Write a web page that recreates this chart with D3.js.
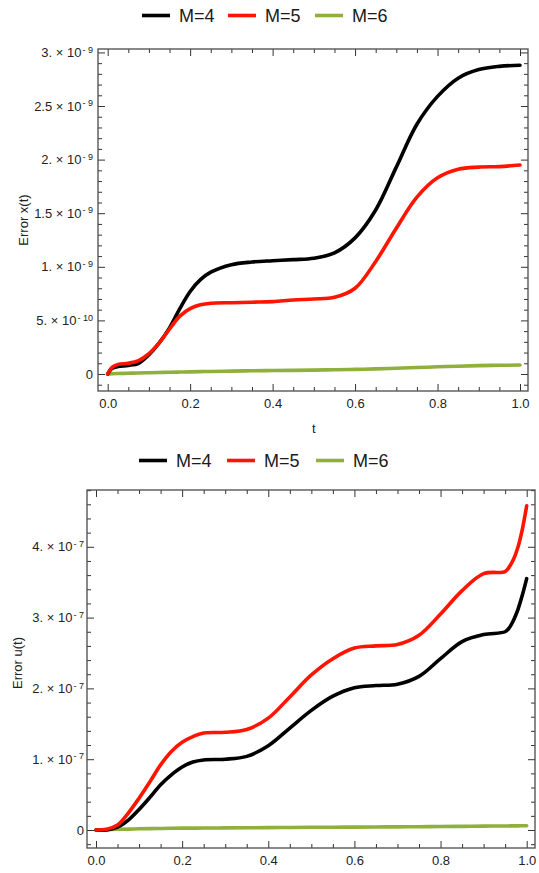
<!DOCTYPE html>
<html>
<head>
<meta charset="utf-8">
<script src="https://cdn.jsdelivr.net/npm/d3@7"></script>
<style>
  body { margin: 0; background: #fff; }
  svg { display: block; font-family: "Liberation Sans", Arial, sans-serif; }
</style>
</head>
<body>
<div id="chart"></div>
<script>
// series names + colours (legend)
var seriesNames = ["M=4", "M=5", "M=6"];
var seriesColors = ["#000000", "#ff1400", "#8fb13c"];

var xTicks = [0, 0.2, 0.4, 0.6, 0.8, 1.0];

// ---- top panel: Error x(t), values in units of 1e-9
var tX = [0, 0.01, 0.025, 0.05, 0.075, 0.1, 0.125, 0.15, 0.175, 0.2, 0.225, 0.25, 0.3, 0.35, 0.4,
  0.45, 0.5, 0.55, 0.6, 0.65, 0.7, 0.75, 0.8, 0.85, 0.9, 0.95, 1.0];
var errX_M4 = [0, 0.05, 0.07, 0.08, 0.10, 0.18, 0.29, 0.43, 0.61, 0.77, 0.88, 0.95, 1.02, 1.045, 1.057,
  1.067, 1.08, 1.13, 1.27, 1.53, 1.93, 2.33, 2.59, 2.76, 2.84, 2.87, 2.88];
var errX_M5 = [0, 0.06, 0.09, 0.10, 0.125, 0.19, 0.29, 0.42, 0.54, 0.61, 0.645, 0.66, 0.665, 0.67, 0.675,
  0.69, 0.70, 0.715, 0.80, 1.05, 1.36, 1.65, 1.83, 1.91, 1.93, 1.935, 1.95];
var errX_M6 = [0, 0.002, 0.004, 0.007, 0.01, 0.012, 0.014, 0.016, 0.018, 0.02, 0.022, 0.024, 0.027, 0.03, 0.032,
  0.034, 0.036, 0.04, 0.043, 0.048, 0.054, 0.06, 0.067, 0.073, 0.078, 0.081, 0.084];
var yTicksX = [0, 0.5, 1, 1.5, 2, 2.5, 3];

// ---- bottom panel: Error u(t), values in units of 1e-7
var tU = [0, 0.025, 0.05, 0.075, 0.1, 0.125, 0.15, 0.175, 0.2, 0.225, 0.25, 0.3, 0.35, 0.4, 0.45,
  0.5, 0.55, 0.6, 0.65, 0.7, 0.75, 0.8, 0.85, 0.9, 0.95, 0.96, 0.97, 0.98, 0.99, 1.0];
var errU_M4 = [0, 0, 0.04, 0.14, 0.29, 0.46, 0.64, 0.78, 0.89, 0.96, 0.99, 1.0, 1.04, 1.19, 1.44,
  1.69, 1.89, 2.01, 2.04, 2.06, 2.17, 2.42, 2.66, 2.76, 2.80, 2.86, 2.97, 3.12, 3.32, 3.55];
var errU_M5 = [0, 0.01, 0.07, 0.24, 0.45, 0.68, 0.92, 1.11, 1.24, 1.32, 1.37, 1.38, 1.42, 1.58, 1.88,
  2.19, 2.42, 2.57, 2.60, 2.62, 2.75, 3.05, 3.38, 3.62, 3.65, 3.72, 3.83, 4.0, 4.25, 4.58];
var errU_M6 = [0, 0.005, 0.01, 0.013, 0.017, 0.02, 0.022, 0.024, 0.026, 0.027, 0.028, 0.03, 0.032, 0.034, 0.036,
  0.038, 0.04, 0.041, 0.043, 0.045, 0.047, 0.05, 0.052, 0.055, 0.057, 0.058, 0.058, 0.059, 0.06, 0.06];
var yTicksU = [0, 1, 2, 3, 4];

var width = 539, height = 873;
var svg = d3.select("#chart").append("svg")
  .attr("width", width)
  .attr("height", height);

// "3. × 10^-9" style labels
function sciLabel(sel, unitExp) {
  sel.each(function (d) {
    var t = d3.select(this).text(null);
    if (d === 0) { t.text("0"); return; }
    var p = Math.floor(Math.log10(d) + 1e-9);
    var m = Math.round(d / Math.pow(10, p) * 1000) / 1000;
    var ms = (m % 1 === 0) ? m + "." : String(m);
    t.append("tspan").text(ms + " \u00d7 10");
    t.append("tspan").attr("dy", "-0.5em").attr("font-size", "9px").attr("dx", "1")
      .text("- " + (-(p + unitExp)));
  });
}

function drawPanel(cfg) {
  var x = d3.scaleLinear().domain(cfg.xDomain).range([cfg.left, cfg.right]);
  var y = d3.scaleLinear().domain(cfg.yDomain).range([cfg.bottom, cfg.top]);
  var g = svg.append("g");

  var xMinor = d3.range(0.05, 1.0, 0.05).filter(function (v) { return Math.round(v * 100) % 20 !== 0; });
  var yMinor = d3.range(cfg.yDomain[0], cfg.yDomain[1], cfg.yMinorStep)
    .map(function (v) { return Math.ceil(v / cfg.yMinorStep - 1e-6) * cfg.yMinorStep; })
    .filter(function (v) { return v <= cfg.yDomain[1] && Math.abs(v / cfg.yMajorStep - Math.round(v / cfg.yMajorStep)) > 1e-6; });

  // minor ticks, all four sides
  var minorSpecs = [
    [d3.axisBottom(x).tickValues(xMinor), cfg.bottom, "x"],
    [d3.axisTop(x).tickValues(xMinor), cfg.top, "x"],
    [d3.axisLeft(y).tickValues(yMinor), cfg.left, "y"],
    [d3.axisRight(y).tickValues(yMinor), cfg.right, "y"]
  ];
  minorSpecs.forEach(function (s) {
    var a = g.append("g")
      .attr("transform", s[2] === "x" ? "translate(0," + s[1] + ")" : "translate(" + s[1] + ",0)")
      .call(s[0].tickSizeInner(-4).tickSizeOuter(0).tickFormat(function () { return ""; }));
    a.select(".domain").remove();
  });

  // major ticks
  var xb = g.append("g").attr("transform", "translate(0," + cfg.bottom + ")")
    .call(d3.axisBottom(x).tickValues(xTicks).tickSizeInner(-7).tickSizeOuter(0).tickPadding(8)
      .tickFormat(d3.format(".1f")));
  g.append("g").attr("transform", "translate(0," + cfg.top + ")")
    .call(d3.axisTop(x).tickValues(xTicks).tickSizeInner(-7).tickSizeOuter(0).tickFormat(function () { return ""; }));
  var yl = g.append("g").attr("transform", "translate(" + cfg.left + ",0)")
    .call(d3.axisLeft(y).tickValues(cfg.yTicks).tickSizeInner(-7).tickSizeOuter(0).tickPadding(cfg.yPad));
  g.append("g").attr("transform", "translate(" + cfg.right + ",0)")
    .call(d3.axisRight(y).tickValues(cfg.yTicks).tickSizeInner(-7).tickSizeOuter(0).tickFormat(function () { return ""; }));

  g.selectAll(".domain").remove();
  g.selectAll(".tick line").attr("stroke", "#333");
  xb.selectAll("text").attr("font-size", "13px").attr("fill", "#222");
  yl.selectAll("text").attr("font-size", "13px").attr("fill", "#222").call(sciLabel, cfg.unitExp);

  // frame
  g.append("rect")
    .attr("x", cfg.left).attr("y", cfg.top)
    .attr("width", cfg.right - cfg.left).attr("height", cfg.bottom - cfg.top)
    .attr("fill", "none").attr("stroke", "#4a4a4a").attr("stroke-width", 1.3);

  // curves
  var clipId = "clip" + cfg.id;
  svg.append("clipPath").attr("id", clipId).append("rect")
    .attr("x", cfg.left).attr("y", cfg.top)
    .attr("width", cfg.right - cfg.left).attr("height", cfg.bottom - cfg.top);

  var line = d3.line()
    .x(function (d) { return x(d[0]); })
    .y(function (d) { return y(d[1]); })
    .curve(d3.curveCatmullRom.alpha(0.5));

  [2, 0, 1].forEach(function (i) {
    var pts = cfg.t.map(function (tv, k) { return [tv, cfg.series[i][k]]; });
    g.append("path")
      .attr("clip-path", "url(#" + clipId + ")")
      .attr("d", line(pts))
      .attr("fill", "none")
      .attr("stroke", seriesColors[i])
      .attr("stroke-width", 3.6)
      .attr("stroke-linecap", "round");
  });

  // axis titles
  if (cfg.xTitle) {
    g.append("text").attr("x", x(0.5)).attr("y", cfg.xTitleY)
      .attr("text-anchor", "middle").attr("font-size", "13px").attr("fill", "#222")
      .text(cfg.xTitle);
  }
  g.append("text")
    .attr("transform", "translate(" + cfg.yTitleX + "," + cfg.yTitleY + ") rotate(-90)")
    .attr("text-anchor", "middle").attr("font-size", "13px").attr("fill", "#222")
    .text(cfg.yTitle);

  // legend
  var lg = g.append("g").attr("transform", "translate(0," + cfg.legendY + ")");
  seriesNames.forEach(function (name, i) {
    var lx = cfg.legendX[i];
    lg.append("line").attr("x1", lx).attr("x2", lx + 28).attr("y1", 0).attr("y2", 0)
      .attr("stroke", seriesColors[i]).attr("stroke-width", 3.6);
    lg.append("text").attr("x", lx + 37).attr("y", 6.5)
      .attr("font-size", "18px").attr("fill", "#1a1a1a").text(name);
  });
}

drawPanel({
  id: "x", left: 98, right: 528, top: 49, bottom: 391,
  xDomain: [-0.0235, 1.0194], yDomain: [-0.1586, 3.032],
  yTicks: yTicksX, yMajorStep: 0.5, yMinorStep: 0.1, unitExp: -9, yPad: 5,
  t: tX, series: [errX_M4, errX_M5, errX_M6],
  xTitle: "t", xTitleY: 433,
  yTitle: "Error x(t)", yTitleX: 28, yTitleY: 220,
  legendY: 15.5, legendX: [142, 228, 315]
});

drawPanel({
  id: "u", left: 87, right: 535, top: 490, bottom: 848,
  xDomain: [-0.0209, 1.0193], yDomain: [-0.254, 4.802],
  yTicks: yTicksU, yMajorStep: 1, yMinorStep: 0.2, unitExp: -7, yPad: 3,
  t: tU, series: [errU_M4, errU_M5, errU_M6],
  xTitle: null,
  yTitle: "Error u(t)", yTitleX: 22, yTitleY: 663,
  legendY: 460.5, legendX: [139, 227, 316]
});
</script>
</body>
</html>
